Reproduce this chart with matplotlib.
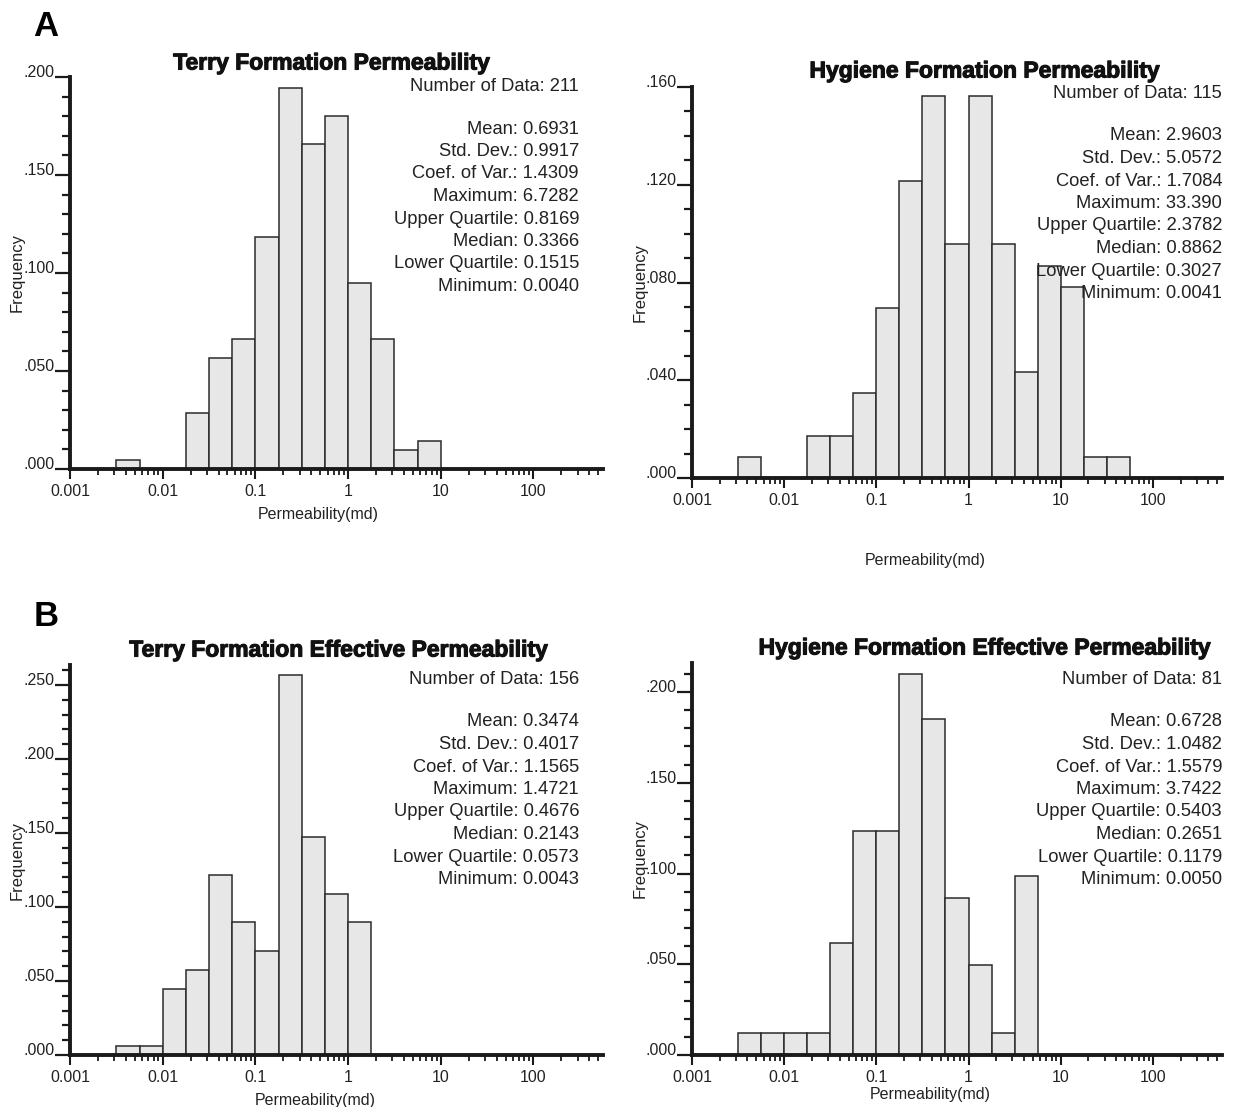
import numpy as np
import matplotlib
matplotlib.use('Agg')
import matplotlib.pyplot as plt
import matplotlib.patheffects as pe
from matplotlib.ticker import FixedLocator, FixedFormatter, MultipleLocator, FuncFormatter, LogLocator, NullFormatter

plt.rcParams['font.family'] = ['Liberation Sans', 'DejaVu Sans']

W, H = 1257, 1107

# histogram bins: quarter-decade classes starting at 0.001 md
bin_start = -3.0
bin_step = 0.25

stat_names = ['Mean', 'Std. Dev.', 'Coef. of Var.', 'Maximum',
              'Upper Quartile', 'Median', 'Lower Quartile', 'Minimum']

decade_ticks = [0.001, 0.01, 0.1, 1, 10, 100]
decade_labels = ['0.001', '0.01', '0.1', '1', '10', '100']

# Terry Formation permeability
terry_n = 211
terry_counts = [0, 0, 1, 0, 0, 6, 12, 14, 25, 41, 35, 38, 20, 14, 2, 3]
terry_stats = ['0.6931', '0.9917', '1.4309', '6.7282', '0.8169', '0.3366', '0.1515', '0.0040']

# Hygiene Formation permeability
hyg_n = 115
hyg_counts = [0, 0, 1, 0, 0, 2, 2, 4, 8, 14, 18, 11, 18, 11, 5, 10, 9, 1, 1]
hyg_stats = ['2.9603', '5.0572', '1.7084', '33.390', '2.3782', '0.8862', '0.3027', '0.0041']

# Terry Formation effective permeability
terry_eff_n = 156
terry_eff_counts = [0, 0, 1, 1, 7, 9, 19, 14, 11, 40, 23, 17, 14]
terry_eff_stats = ['0.3474', '0.4017', '1.1565', '1.4721', '0.4676', '0.2143', '0.0573', '0.0043']

# Hygiene Formation effective permeability
hyg_eff_n = 81
hyg_eff_counts = [0, 0, 1, 1, 1, 1, 5, 10, 10, 17, 15, 7, 4, 1, 8]
hyg_eff_stats = ['0.6728', '1.0482', '1.5579', '3.7422', '0.5403', '0.2651', '0.1179', '0.0050']


fig = plt.figure(figsize=(W / 100, H / 100), dpi=100)


def fx(x):
    return x / W


def fy(y):
    return 1 - y / H


def panel(box, counts, n, ymax, ystep, title, stats, title_pos, stats_top, xlab_pos, ylab_x):
    left, top, right, base = box
    ax = fig.add_axes([fx(left), fy(base), (right - left) / W, (base - top) / H])

    counts = np.array(counts, dtype=float)
    freq = counts / n
    edges = 10 ** (bin_start + bin_step * np.arange(len(counts) + 1))
    keep = freq > 0
    ax.bar(edges[:-1][keep], freq[keep], width=np.diff(edges)[keep], align='edge',
           color='#e6e7e6', edgecolor='#2b2b2b', linewidth=1.1, zorder=2)

    ax.set_xscale('log')
    ax.set_xlim(1e-3, 10 ** 2.75)
    ax.set_ylim(0, ymax)

    for s in ['top', 'right']:
        ax.spines[s].set_visible(False)
    for s in ['left', 'bottom']:
        ax.spines[s].set_linewidth(2.8)
        ax.spines[s].set_color('#1a1a1a')
        ax.spines[s].set_zorder(3)

    ax.xaxis.set_major_locator(FixedLocator(decade_ticks))
    ax.xaxis.set_major_formatter(FixedFormatter(decade_labels))
    ax.xaxis.set_minor_locator(LogLocator(base=10, subs=np.arange(2, 10)))
    ax.xaxis.set_minor_formatter(NullFormatter())
    ax.tick_params(axis='x', which='major', length=7, width=1.5, pad=4,
                   labelsize=11.5, color='#1a1a1a', labelcolor='#222222')
    ax.tick_params(axis='x', which='minor', length=4, width=1.3, color='#1a1a1a')

    ax.yaxis.set_major_locator(MultipleLocator(ystep))
    ax.yaxis.set_minor_locator(MultipleLocator(0.01))
    ax.yaxis.set_major_formatter(FuncFormatter(lambda v, _: f'{v:.3f}'[1:]))
    ax.tick_params(axis='y', which='major', length=11, width=1.6, pad=0,
                   labelsize=11.5, color='#1a1a1a', labelcolor='#222222')
    ax.tick_params(axis='y', which='minor', length=6, width=1.6, color='#1a1a1a')
    plt.setp(ax.get_yticklabels(), va='baseline')

    fig.text(fx(title_pos[0]), fy(title_pos[1]), title, ha='center', va='center',
             fontsize=16.5, fontweight='bold', color='#111111',
             path_effects=[pe.withStroke(linewidth=0.8, foreground='#111111')])

    text_right = fx(right - (24 if right < 700 else 0))
    fig.text(text_right, fy(stats_top - 43), f'Number of Data: {n}', ha='right',
             va='center', fontsize=13.2, color='#222222')
    for i, (name, val) in enumerate(zip(stat_names, stats)):
        fig.text(text_right, fy(stats_top + 22.5 * i), f'{name}: {val}', ha='right',
                 va='center', fontsize=13.2, color='#222222')

    fig.text(fx(xlab_pos[0]), fy(xlab_pos[1]), 'Permeability(md)', ha='center',
             va='center', fontsize=11.5, color='#222222')
    fig.text(fx(ylab_x), fy((top + base) / 2), 'Frequency', ha='center', va='center',
             rotation=90, fontsize=12, color='#222222')
    return ax


panel((70, 77, 603, 469), terry_counts, terry_n, 0.200, 0.050,
      'Terry Formation Permeability', terry_stats, (331, 63), 129, (318, 514), 17)
panel((692, 87, 1222, 478), hyg_counts, hyg_n, 0.160, 0.040,
      'Hygiene Formation Permeability', hyg_stats, (984, 71), 136, (925, 561), 640)
panel((70, 665, 603, 1055), terry_eff_counts, terry_eff_n, 0.2635, 0.050,
      'Terry Formation Effective Permeability', terry_eff_stats, (338, 650), 722, (315, 1100), 17)
panel((692, 663, 1222, 1055), hyg_eff_counts, hyg_eff_n, 0.216, 0.050,
      'Hygiene Formation Effective Permeability', hyg_eff_stats, (984, 648), 722, (930, 1094), 640)

fig.text(fx(46), fy(26), 'A', ha='center', va='center', fontsize=25, fontweight='bold')
fig.text(fx(46), fy(617), 'B', ha='center', va='center', fontsize=25, fontweight='bold')

fig.savefig('out.png', dpi=100)
